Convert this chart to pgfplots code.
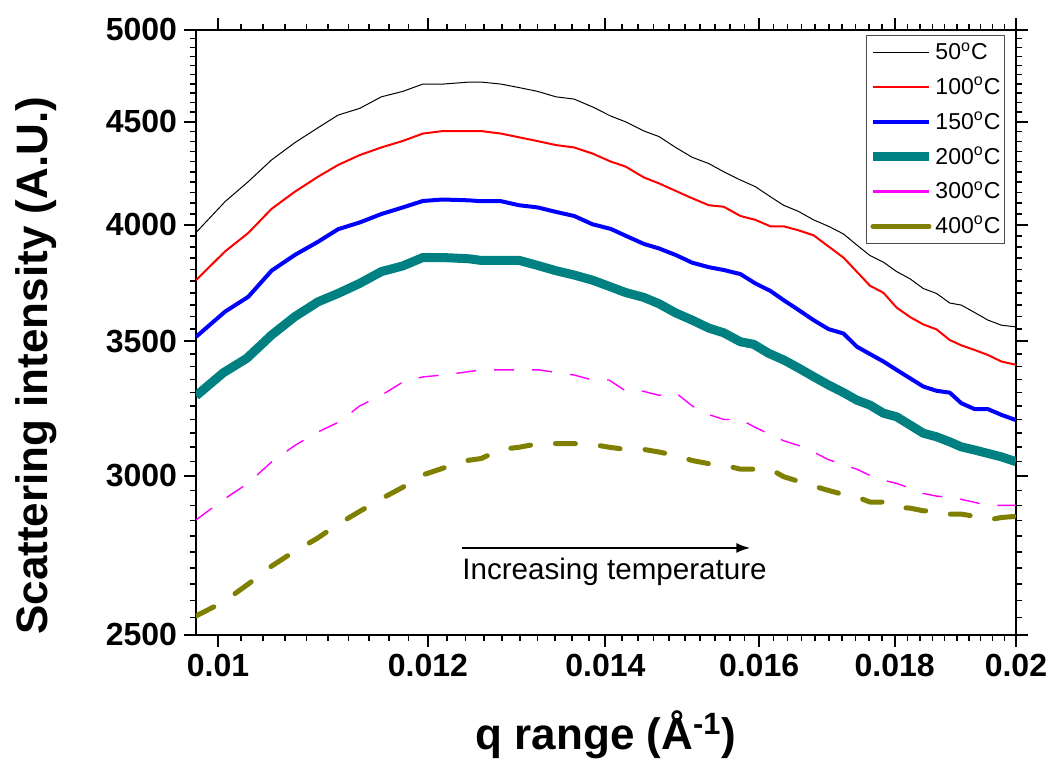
\documentclass[border=0pt]{standalone}
\usepackage{fontspec}
\setmainfont{Liberation Sans}
\usepackage{pgfplots}
\usepackage{pgfplotstable}
\pgfplotsset{compat=1.18}
\usetikzlibrary{arrows.meta}

\definecolor{tealc}{RGB}{0,128,128}
\definecolor{olivec}{RGB}{128,128,0}
\definecolor{pinkc}{RGB}{255,0,255}

% 50 C
\pgfplotstableread{
q y
0.009811 3965
0.010061 4107
0.010266 4202
0.010476 4308
0.010690 4394
0.010908 4470
0.011099 4535
0.011309 4570
0.011524 4631
0.011742 4660
0.011947 4699
0.012156 4699
0.012440 4710
0.012567 4710
0.012787 4699
0.012991 4680
0.013199 4660
0.013411 4631
0.013626 4619
0.013843 4578
0.014066 4530
0.014250 4500
0.014478 4453
0.014667 4425
0.014881 4370
0.015097 4321
0.015317 4290
0.015517 4250
0.015743 4210
0.015949 4178
0.016158 4130
0.016345 4090
0.016559 4061
0.016776 4022
0.016995 3993
0.017218 3958
0.017417 3909
0.017620 3861
0.017825 3832
0.018031 3791
0.018242 3760
0.018453 3718
0.018667 3697
0.018885 3657
0.019076 3648
0.019299 3617
0.019523 3586
0.019749 3565
0.020000 3558
}\tblA

% 100 C
\pgfplotstableread{
q y
0.009811 3754
0.010061 3880
0.010266 3963
0.010476 4073
0.010690 4154
0.010908 4226
0.011099 4283
0.011309 4332
0.011524 4370
0.011742 4403
0.011947 4440
0.012156 4453
0.012440 4453
0.012567 4453
0.012787 4440
0.012991 4421
0.013199 4402
0.013411 4382
0.013626 4370
0.013843 4340
0.014066 4300
0.014250 4275
0.014478 4222
0.014667 4194
0.014881 4158
0.015097 4123
0.015317 4090
0.015517 4083
0.015743 4040
0.015949 4022
0.016158 3993
0.016345 3993
0.016559 3975
0.016776 3952
0.016995 3902
0.017218 3852
0.017417 3791
0.017620 3730
0.017825 3700
0.018031 3638
0.018242 3599
0.018453 3568
0.018667 3548
0.018885 3505
0.019076 3484
0.019299 3465
0.019523 3445
0.019749 3420
0.020000 3407
}\tblB

% 150 C
\pgfplotstableread{
q y
0.009811 3518
0.010061 3621
0.010266 3683
0.010476 3795
0.010690 3864
0.010908 3923
0.011099 3980
0.011309 4010
0.011524 4049
0.011742 4080
0.011947 4110
0.012156 4117
0.012440 4113
0.012567 4109
0.012787 4109
0.012991 4090
0.013199 4080
0.013411 4059
0.013626 4040
0.013843 4002
0.014066 3981
0.014250 3950
0.014478 3913
0.014667 3893
0.014881 3864
0.015097 3830
0.015317 3810
0.015517 3798
0.015743 3780
0.015949 3740
0.016158 3708
0.016345 3669
0.016559 3628
0.016776 3586
0.016995 3549
0.017218 3531
0.017417 3479
0.017620 3449
0.017825 3420
0.018031 3387
0.018242 3355
0.018453 3323
0.018667 3307
0.018885 3300
0.019076 3260
0.019299 3238
0.019523 3238
0.019749 3217
0.020000 3198
}\tblC

% 200 C
\pgfplotstableread{
q y
0.009811 3288
0.010046 3376
0.010252 3432
0.010476 3525
0.010690 3600
0.010908 3662
0.011099 3697
0.011309 3740
0.011524 3791
0.011742 3816
0.011947 3853
0.012156 3853
0.012440 3847
0.012567 3840
0.012787 3840
0.012991 3840
0.013199 3818
0.013411 3795
0.013626 3776
0.013843 3754
0.014066 3725
0.014250 3701
0.014478 3680
0.014667 3654
0.014881 3616
0.015097 3586
0.015317 3553
0.015517 3534
0.015743 3498
0.015926 3488
0.016134 3452
0.016345 3426
0.016559 3394
0.016776 3361
0.016995 3329
0.017218 3300
0.017417 3272
0.017620 3253
0.017825 3223
0.018031 3210
0.018242 3180
0.018453 3150
0.018667 3137
0.018885 3119
0.019076 3101
0.019299 3090
0.019523 3078
0.019749 3066
0.020000 3049
}\tblD

% 300 C
\pgfplotstableread{
q y
0.009811 2852
0.010046 2919
0.010266 2975
0.010476 3048
0.010690 3106
0.010893 3152
0.011115 3192
0.011309 3250
0.011524 3290
0.011742 3340
0.011947 3360
0.012156 3367
0.012369 3377
0.012567 3387
0.012787 3387
0.012991 3387
0.013218 3387
0.013411 3377
0.013626 3367
0.013843 3348
0.014045 3348
0.014250 3306
0.014456 3306
0.014667 3290
0.014881 3300
0.015097 3250
0.015317 3218
0.015517 3200
0.015743 3200
0.015949 3171
0.016158 3145
0.016345 3123
0.016559 3106
0.016776 3083
0.016995 3056
0.017193 3040
0.017417 3023
0.017620 3001
0.017825 2985
0.018031 2974
0.018242 2958
0.018453 2940
0.018667 2931
0.018885 2927
0.019076 2920
0.019299 2910
0.019494 2900
0.019722 2900
0.020000 2900
}\tblE

% 400 C
\pgfplotstableread{
q y
0.009811 2555
0.010046 2596
0.010266 2650
0.010476 2705
0.010690 2752
0.010893 2791
0.011099 2838
0.011309 2880
0.011524 2922
0.011742 2961
0.011947 3003
0.012156 3026
0.012369 3051
0.012567 3060
0.012787 3092
0.012991 3100
0.013218 3113
0.013411 3113
0.013626 3113
0.013843 3110
0.014045 3100
0.014250 3092
0.014478 3092
0.014667 3083
0.014881 3071
0.015097 3053
0.015317 3042
0.015517 3037
0.015743 3023
0.015949 3023
0.016158 3023
0.016345 2997
0.016559 2981
0.016776 2965
0.016995 2950
0.017193 2938
0.017417 2928
0.017620 2911
0.017825 2911
0.018031 2893
0.018242 2891
0.018453 2882
0.018667 2882
0.018885 2871
0.019076 2871
0.019299 2864
0.019523 2852
0.019749 2860
0.020000 2864
}\tblF

\begin{document}
\begin{tikzpicture}
\path[use as bounding box] (-98pt,-65pt) rectangle (427.5pt,317.5pt);
\begin{axis}[
    at={(0pt,0pt)}, anchor=south west,
    scale only axis, width=410pt, height=302.5pt,
    xmode=log, ymode=log,
    xmin=0.00981, xmax=0.02, ymin=2500, ymax=5000,
    xtick={0.01,0.012,0.014,0.016,0.018,0.02},
    xticklabels={0.01,0.012,0.014,0.016,0.018,0.02},
    ytick={2500,3000,3500,4000,4500,5000},
    yticklabels={2500,3000,3500,4000,4500,5000},
    minor xtick={0.0098,0.0102,0.0104,0.0106,0.0108,0.0110,0.0112,0.0114,0.0116,0.0118,
        0.0122,0.0124,0.0126,0.0128,0.0130,0.0132,0.0134,0.0136,0.0138,
        0.0142,0.0144,0.0146,0.0148,0.0150,0.0152,0.0154,0.0156,0.0158,
        0.0162,0.0164,0.0166,0.0168,0.0170,0.0172,0.0174,0.0176,0.0178,
        0.0182,0.0184,0.0186,0.0188,0.0190,0.0192,0.0194,0.0196,0.0198},
    minor ytick={2550,2600,...,4950},
    tick align=outside,
    major tick length=6pt, minor tick length=3pt,
    major tick style={black, line width=1pt},
    minor tick style={black, line width=0.8pt},
    axis line style={line width=1pt},
    tick label style={font=\fontsize{16}{19}\selectfont\bfseries},
    xlabel={q range (Å\textsuperscript{-1})},
    ylabel={Scattering intensity (A.U.)},
    label style={font=\fontsize{22}{26}\selectfont\bfseries},
    xlabel style={at={(rel axis cs:0.5,-0.165)}, anchor=center},
    ylabel style={at={(rel axis cs:-0.195,0.445)}, anchor=center},
    legend style={at={(rel axis cs:0.9866,0.9917)}, anchor=north east,
        font=\fontsize{11.5}{13}\selectfont, draw=black!70, line width=0.5pt,
        inner sep=1pt, row sep=2.2pt,
        nodes={inner xsep=1pt, inner ysep=2.5pt},
        cells={anchor=west}},
    legend image code/.code={\draw[#1] (0pt,0pt) -- (28pt,0pt);},
    legend image post style={solid},
]
\addplot[black, line width=0.5pt] table[x=q,y=y] {\tblA};
\addlegendentry{50\textsuperscript{o}C}
\addplot[red, line width=1pt] table[x=q,y=y] {\tblB};
\addlegendentry{100\textsuperscript{o}C}
\addplot[blue, line width=2pt, line join=round] table[x=q,y=y] {\tblC};
\addlegendentry{150\textsuperscript{o}C}
\addplot[tealc, line width=4.5pt, line join=round] table[x=q,y=y] {\tblD};
\addlegendentry{200\textsuperscript{o}C}
\addplot[pinkc, line width=0.7pt, dash pattern=on 10pt off 9pt, forget plot] table[x=q,y=y] {\tblE};
\addlegendimage{pinkc, line width=1.2pt}
\addlegendentry{300\textsuperscript{o}C}
\addplot[olivec, line width=2.5pt, line cap=round, line join=round, dash pattern=on 10pt off 12.5pt] table[x=q,y=y] {\tblF};
\addlegendentry{400\textsuperscript{o}C}
\draw[-{Latex[length=7pt,width=5pt]}, line width=1pt] (axis cs:0.01236,2762) -- (axis cs:0.01588,2762);
\node[anchor=west, inner sep=0pt, font=\fontsize{14.8}{17}\selectfont] at (axis cs:0.01236,2687) {Increasing temperature};
\end{axis}
\end{tikzpicture}
\end{document}
